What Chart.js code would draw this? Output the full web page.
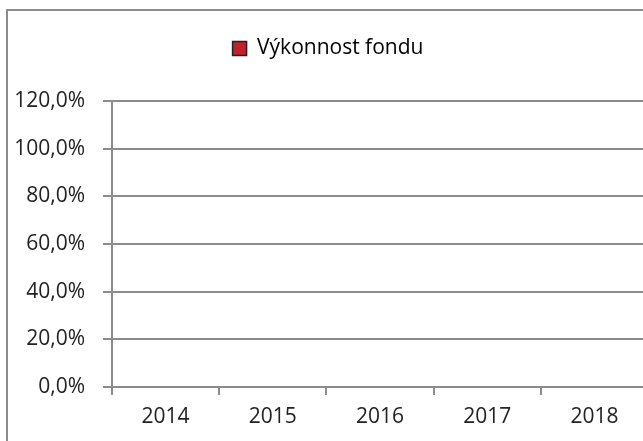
<!DOCTYPE html>
<html>
<head>
<meta charset="utf-8">
<script src="https://cdn.jsdelivr.net/npm/chart.js@4"></script>
<style>
  html, body { margin: 0; padding: 0; background: #fff; overflow: hidden; }
  canvas { display: block; }
</style>
</head>
<body>
<canvas id="fondChart" width="660" height="441"></canvas>
<script>
// data
const years = ['2014', '2015', '2016', '2017', '2018'];
const vykonnost = [0, 0, 0, 0, 0];
const yTicks = [0, 0.2, 0.4, 0.6, 0.8, 1.0, 1.2];

// ramecek kolem grafu (jako v Excelu)
const ramecek = {
    id: 'ramecek',
    beforeDraw(chart) {
        const ctx = chart.ctx;
        ctx.save();
        ctx.strokeStyle = '#8c8c8c';
        ctx.lineWidth = 2;
        ctx.beginPath();
        ctx.moveTo(7, chart.height);
        ctx.lineTo(7, 10);
        ctx.lineTo(chart.width, 10);
        ctx.stroke();
        ctx.restore();
    }
};

function formatProcenta(v) {
    return (v * 100).toFixed(1).replace('.', ',') + '%';
}

const pismo = { family: 'Open Sans', size: 21 };

const ctx = document.getElementById('fondChart').getContext('2d');
new Chart(ctx, {
    type: 'bar',
    data: {
        labels: years,
        datasets: [{
            label: 'Výkonnost fondu',
            data: vykonnost,
            backgroundColor: '#c0212a',
            borderWidth: 0
        }]
    },
    options: {
        responsive: false,
        animation: false,
        layout: { padding: { left: 8, right: 12, top: 26, bottom: 0 } },
        plugins: {
            tooltip: { enabled: false },
            // prazdny titulek jen jako mezera pod legendou
            title: {
                display: true,
                text: '',
                weight: 500,
                font: { size: 10 },
                padding: { top: 10, bottom: 10 }
            },
            legend: {
                position: 'top',
                weight: 1000,
                labels: {
                    color: '#222',
                    font: pismo,
                    boxWidth: 14,
                    boxHeight: 14,
                    padding: 12,
                    generateLabels: chart => [{
                        text: 'Výkonnost fondu',
                        fillStyle: '#c0212a',
                        strokeStyle: '#222',
                        lineWidth: 1.5,
                        datasetIndex: 0
                    }]
                }
            }
        },
        scales: {
            x: {
                grid: {
                    offset: true,
                    drawOnChartArea: false,
                    color: '#8c8c8c',
                    lineWidth: 2,
                    tickLength: 8
                },
                border: { color: '#8c8c8c', width: 2 },
                ticks: {
                    color: '#222',
                    font: pismo,
                    padding: 9,
                    maxRotation: 0
                },
                afterFit: s => { s.height = 54; }
            },
            y: {
                min: 0,
                max: 1.2,
                afterBuildTicks: s => { s.ticks = yTicks.map(v => ({ value: v })); },
                grid: {
                    color: '#8c8c8c',
                    lineWidth: 2,
                    tickLength: 9
                },
                border: { color: '#8c8c8c', width: 2 },
                ticks: {
                    color: '#222',
                    font: pismo,
                    padding: 18,
                    callback: v => formatProcenta(v)
                },
                afterFit: s => { s.width = 104; }
            }
        }
    },
    plugins: [ramecek]
});
</script>
</body>
</html>
